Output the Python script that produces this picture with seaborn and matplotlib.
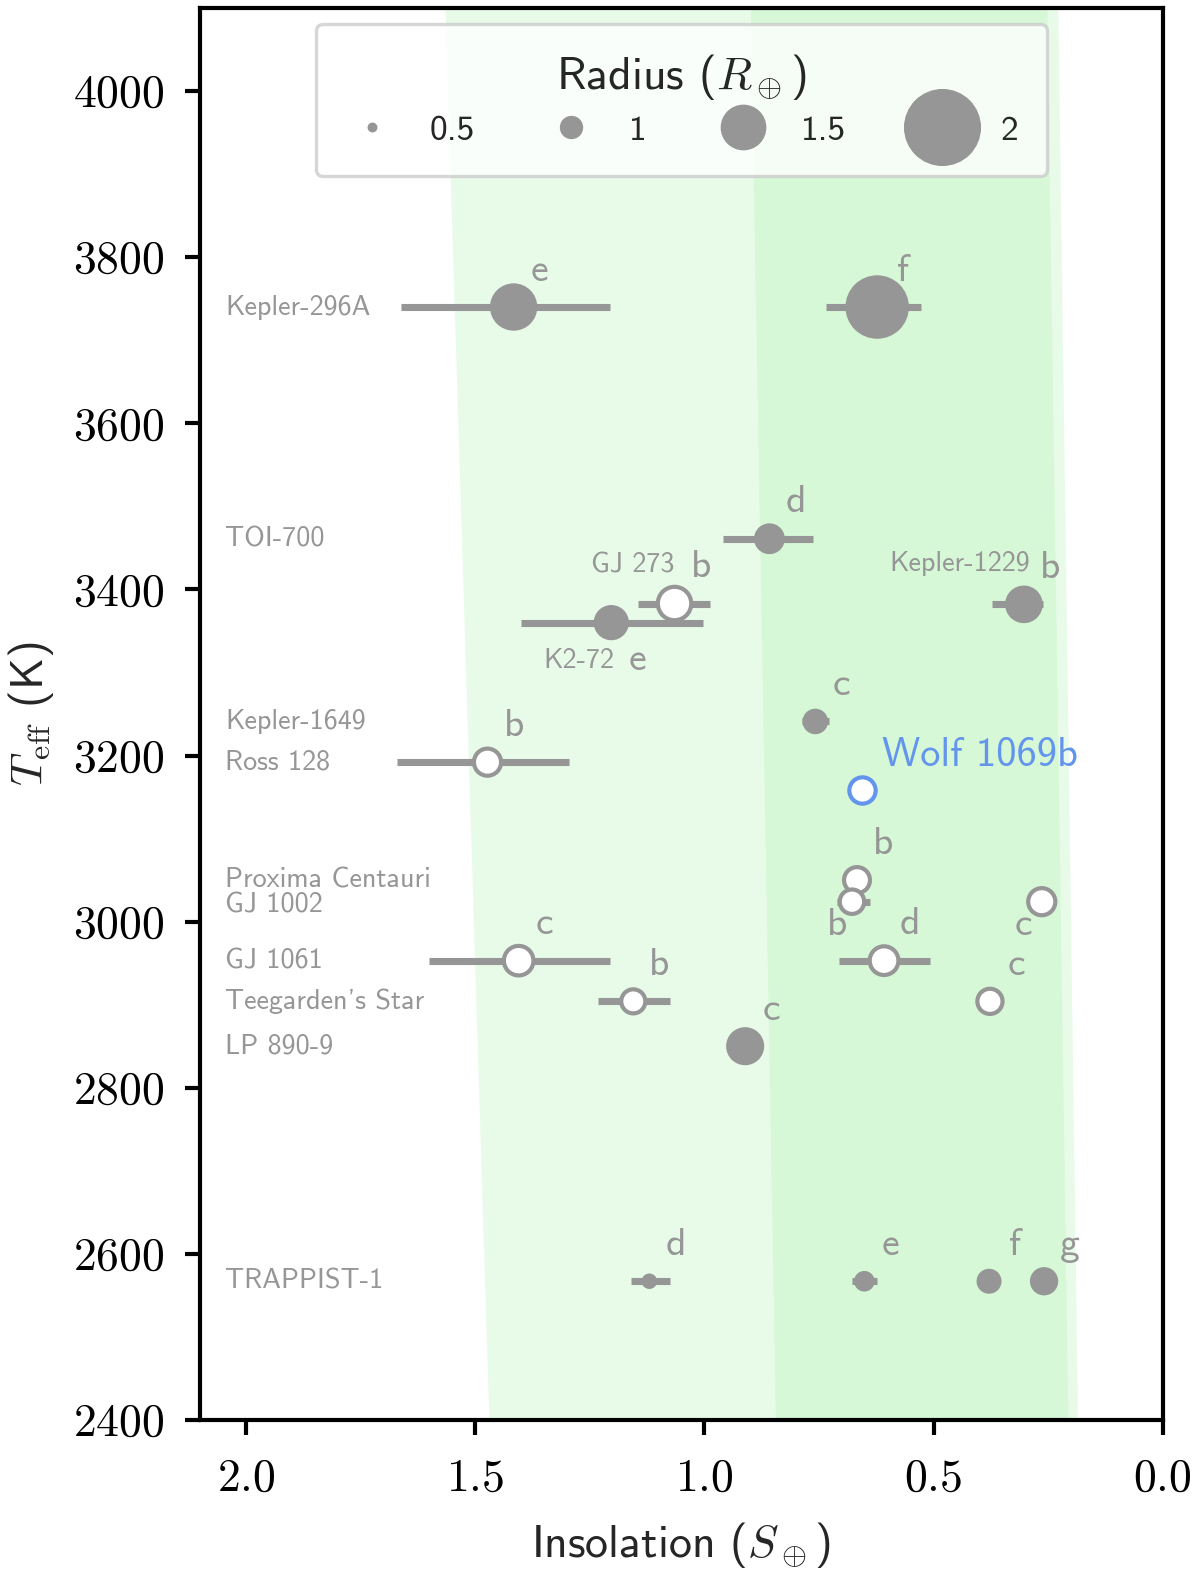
import matplotlib
matplotlib.use("Agg")
import matplotlib.pyplot as plt
import numpy as np
import pandas as pd
import seaborn as sns
from matplotlib.lines import Line2D
from matplotlib.ticker import FuncFormatter

# ---- data -------------------------------------------------------------
star = ["Kepler-296A", "Kepler-296A", "TOI-700", "GJ 273", "K2-72", "Kepler-1229",
        "Kepler-1649", "Ross 128", "Wolf 1069", "Proxima Centauri", "GJ 1002", "GJ 1002",
        "GJ 1061", "GJ 1061", "Teegarden's Star", "Teegarden's Star", "LP 890-9",
        "TRAPPIST-1", "TRAPPIST-1", "TRAPPIST-1", "TRAPPIST-1"]
letter = ["e", "f", "d", "b", "e", "b", "c", "b", "b", "b", "b", "c",
          "c", "d", "b", "c", "c", "d", "e", "f", "g"]
teff = [3740, 3740, 3461, 3383, 3360, 3382, 3241, 3192, 3158, 3050, 3024, 3024,
        2953, 2953, 2904, 2904, 2850, 2567, 2567, 2567, 2567]
insol = [1.416, 0.623, 0.858, 1.065, 1.203, 0.303, 0.758, 1.473, 0.656, 0.667, 0.678, 0.264,
         1.405, 0.608, 1.155, 0.377, 0.911, 1.120, 0.651, 0.379, 0.259]
insol_lo = [1.205, 0.527, 0.763, 0.987, 1.004, 0.262, 0.728, 1.296, 0.656, 0.667, 0.638, 0.264,
            1.205, 0.508, 1.074, 0.351, 0.911, 1.074, 0.624, 0.379, 0.259]
insol_hi = [1.662, 0.734, 0.959, 1.144, 1.401, 0.373, 0.786, 1.671, 0.656, 0.667, 0.710, 0.264,
            1.601, 0.706, 1.233, 0.399, 0.911, 1.161, 0.678, 0.379, 0.259]
radius = [1.53, 1.80, 1.19, 1.25, 1.29, 1.34, 1.06, 1.10, 1.08, 1.07, 1.03, 1.10,
          1.16, 1.14, 1.02, 1.05, 1.35, 0.75, 0.92, 1.045, 1.13]
transiting = [True, True, True, False, True, True, True, False, False, False, False, False,
              False, False, False, False, True, True, True, True, True]

# stars named at the left edge of the axes
left_names = ["Kepler-296A", "TOI-700", "Kepler-1649", "Ross 128", "Proxima Centauri",
              "GJ 1002", "GJ 1061", "Teegarden's Star", "LP 890-9", "TRAPPIST-1"]
left_name_teff = [3740, 3461, 3241, 3192, 3050, 3020, 2953, 2904, 2850, 2567]

# habitable zone edges (insolation) at the bottom / top of the Teff range
hz_teff = [2400, 4100]
hz_cons_inner = [0.845, 0.900]
hz_cons_outer = [0.207, 0.253]
hz_opt_inner = [1.470, 1.566]
hz_opt_outer = [0.186, 0.229]

legend_radii = [0.5, 1, 1.5, 2]

# ---- style ------------------------------------------------------------
GRAY = "#969696"
BLUE = "#6495ED"
HZ_COLOR = "lightgreen"
LETTER_OFFSET = (6.3, 8.6)
# special placement of planet letters (offset points)
letter_offsets = {("K2-72", "e"): (6.3, -9.2), ("GJ 1002", "b"): (-3.6, -5.8),
                  ("GJ 1002", "c"): (-4.3, -5.8)}
# star names written next to their planet instead of at the left
near_names = {"GJ 273": (0.0, 9.3), "K2-72": (0.7, -9.2), "Kepler-1229": (1.4, 9.8)}

sns.set_theme(style="ticks")
plt.rcParams["font.family"] = ["cmss10", "DejaVu Sans"]
plt.rcParams["mathtext.fontset"] = "cm"
plt.rcParams["axes.unicode_minus"] = False
plt.rcParams["axes.edgecolor"] = "black"
plt.rcParams["xtick.color"] = "black"
plt.rcParams["ytick.color"] = "black"


def diameter(r):
    return 4.3 * np.asarray(r) ** 2 + 1.3


df = pd.DataFrame({"star": star, "letter": letter, "teff": teff, "S": insol,
                   "S_lo": insol_lo, "S_hi": insol_hi, "R": radius, "transit": transiting})
df["area"] = diameter(df["R"]) ** 2

fig, ax = plt.subplots(figsize=(4, 1573 / 300))
fig.subplots_adjust(left=0.1667, right=0.969, bottom=0.0973, top=0.9949)

ax.fill_betweenx(hz_teff, hz_opt_inner, hz_opt_outer, color=HZ_COLOR, alpha=0.2, lw=0, zorder=0)
ax.fill_betweenx(hz_teff, hz_cons_inner, hz_cons_outer, color=HZ_COLOR, alpha=0.2, lw=0, zorder=0)

ax.errorbar(df["S"], df["teff"], xerr=[df["S"] - df["S_lo"], df["S_hi"] - df["S"]],
            fmt="none", ecolor=GRAY, elinewidth=1.7, capsize=0, zorder=3)

filled = df[df["transit"]]
sns.scatterplot(data=filled, x="S", y="teff", s=filled["area"].to_numpy(), color=GRAY,
                edgecolor="none", linewidth=0, legend=False, zorder=4, ax=ax)
wolf = df["star"] == "Wolf 1069"
opened = df[~df["transit"] & ~wolf]
sns.scatterplot(data=opened, x="S", y="teff", s=opened["area"].to_numpy(), facecolor="white",
                edgecolor=GRAY, linewidth=1.0, legend=False, zorder=4, ax=ax)
w = df[wolf]
sns.scatterplot(data=w, x="S", y="teff", s=w["area"].to_numpy(), facecolor="white",
                edgecolor=BLUE, linewidth=1.0, legend=False, zorder=4, ax=ax)

for _, row in df.iterrows():
    if row["star"] == "Wolf 1069":
        ax.annotate("Wolf 1069b", (row["S"], row["teff"]), xytext=(4.8, 8.4),
                    textcoords="offset points", ha="left", va="center", fontsize=9.7,
                    color=BLUE, zorder=2)
        continue
    off = letter_offsets.get((row["star"], row["letter"]), LETTER_OFFSET)
    ax.annotate(row["letter"], (row["S"], row["teff"]), xytext=off, textcoords="offset points",
                ha="center", va="center", fontsize=9.5, color=GRAY, zorder=2)
    if row["star"] in near_names:
        dx, dy = near_names[row["star"]]
        ax.annotate(row["star"], (row["S"], row["teff"]), xytext=(dx, dy),
                    textcoords="offset points", ha="right", va="center", fontsize=6.75,
                    color=GRAY, zorder=2)

for name, t in zip(left_names, left_name_teff):
    ax.text(2.045, t, name, ha="left", va="center", fontsize=6.75, color=GRAY, zorder=2)

ax.set_xlim(2.1, 0.0)
ax.set_ylim(2400, 4100)
ax.set_xticks([2.0, 1.5, 1.0, 0.5, 0.0])
ax.set_yticks(np.arange(2400, 4001, 200))
ax.xaxis.set_major_formatter(FuncFormatter(lambda v, p: f"${v:.1f}$"))
ax.yaxis.set_major_formatter(FuncFormatter(lambda v, p: f"${v:.0f}$"))
ax.tick_params(axis="both", direction="out", length=3.5, width=1.0, labelsize=11, pad=5,
               top=False, right=False)
ax.tick_params(axis="x", pad=5.7)
for sp in ax.spines.values():
    sp.set_linewidth(1.0)
    sp.set_color("black")
ax.set_xlabel(r"Insolation ($S_\oplus$)", fontsize=11, labelpad=5.0)
ax.set_ylabel(r"$T_\mathrm{eff}$ (K)", fontsize=11, labelpad=4)

handles = [Line2D([], [], marker="o", linestyle="", markersize=float(diameter(r)),
                  markerfacecolor=GRAY, markeredgewidth=0) for r in legend_radii]
leg = ax.legend(handles, [f"{r:g}" for r in legend_radii], title=r"Radius ($R_\oplus$)",
                loc="upper center", ncol=4, fontsize=8.5, title_fontsize=11,
                handlelength=1.5, handletextpad=0.9, columnspacing=1.95,
                borderpad=0.82, labelspacing=0.35, framealpha=0.8, edgecolor="0.8",
                fancybox=True, bbox_to_anchor=(0.5, 1.0015))
leg.get_frame().set_linewidth(0.8)

fig.savefig("out.png", dpi=300)
